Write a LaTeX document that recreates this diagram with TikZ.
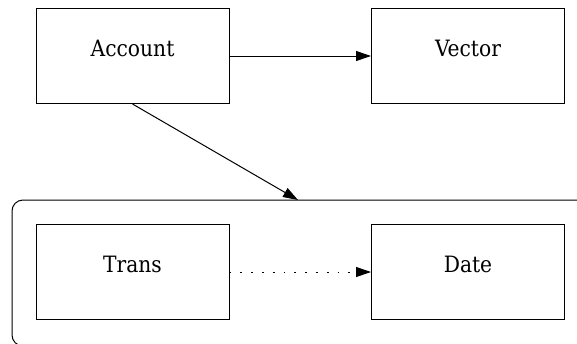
\documentclass[tikz,border=0pt]{standalone}
\usepackage{fontspec}
\setmainfont{DejaVu Serif Condensed}
\usetikzlibrary{arrows.meta}
\begin{document}
\begin{tikzpicture}[x=1pt,y=-1pt,
  classbox/.style={draw, line width=1pt, inner sep=0pt,
    minimum width=193pt, text height=47.5pt, text depth=47.5pt,
    font=\fontsize{22.5}{26}\selectfont},
  link/.style={line width=1pt, -{Triangle[length=15pt,width=10pt]}},
  dotlink/.style={link, dash pattern=on 1.8pt off 9pt}]
  \useasboundingbox (0,0) rectangle (577,343);
  \begin{scope}
    \clip (0,0) rectangle (577,343);
    % package frame, open at the right and bottom
    \draw[line width=1pt, rounded corners=11pt] (640,200) -- (12,200) -- (12,346) -- (640,346);
  \end{scope}
  \coordinate (pkg) at (298,200);

  \node[classbox] (acc) at (132.5,56) {Account};
  \node[classbox] (vec) at (468,56) {Vector};
  \node[classbox] (trans) at (132.5,272) {Trans};
  \node[classbox] (date) at (468,272) {Date};

  \draw[link] (acc) -- (vec);
  \draw[link] (acc.south) -- (pkg);
  \draw[dotlink] (trans) -- (date);
\end{tikzpicture}
\end{document}
